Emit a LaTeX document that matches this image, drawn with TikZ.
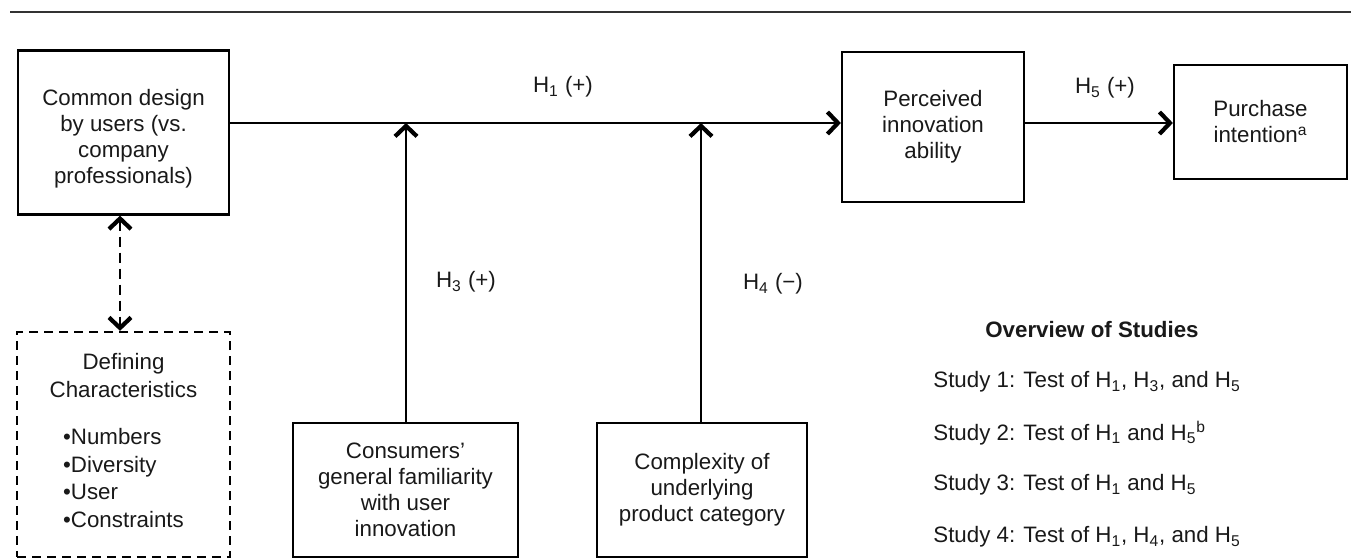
\documentclass[tikz,border=0pt]{standalone}
\usepackage{fontspec}
\setmainfont{Liberation Sans}
\usetikzlibrary{arrows.meta}

\newcommand{\Hy}[1]{H\textsubscript{#1}}

\tikzset{
  box/.style={draw, line width=1.3pt, align=center, inner sep=2pt},
  dbox/.style={box, dash pattern=on 0.18cm off 0.12cm},
  tip/.tip={Straight Barb[length=0.21cm,width=0.44cm,line width=2.4pt]},
  arr/.style={line width=1.3pt, -tip},
  darr/.style={line width=1.3pt, dash pattern=on 0.2cm off 0.12cm, tip-tip},
  lbl/.style={inner sep=0pt},
}

\begin{document}
\begin{tikzpicture}[x=0.02cm, y=-0.02cm, font=\fontsize{12.7}{14.8}\selectfont, text=black!90]
  \useasboundingbox (0,0) rectangle (1351,560);
  \draw[line width=1.7pt, black!80] (10,12) -- (1351,12);

  \node[box, minimum width=4.22cm, minimum height=3.28cm] (common) at (123.5,132.5)
    {\raisebox{-4pt}[\height][\depth]{\begin{tabular}{@{}c@{}}Common design\\by users (vs.\\company\\professionals)\end{tabular}}};
  \node[dbox, minimum width=4.26cm, minimum height=4.5cm,
        font=\fontsize{12.7}{15.6}\selectfont] (defchar) at (123.5,444.5)
    {Defining\\Characteristics\\[15pt]
     \begin{tabular}{@{}l@{}}\textbullet Numbers\\ \textbullet Diversity\\ \textbullet User\\ \textbullet Constraints\end{tabular}};
  \node[box, minimum width=4.5cm, minimum height=2.68cm] (familiar) at (405.5,490)
    {Consumers'\\general familiarity\\with user\\innovation};
  \node[box, minimum width=4.2cm, minimum height=2.68cm] (complex) at (702,490)
    {Complexity of\\underlying\\product category};
  \node[box, minimum width=3.64cm, minimum height=3cm] (perceived) at (933,127)
    {Perceived\\innovation\\ability};
  \node[box, minimum width=3.46cm, minimum height=2.28cm] (purchase) at (1260.5,122)
    {Purchase\\intention\textsuperscript{a}};

  \coordinate (j3) at (406,123);
  \coordinate (j4) at (701,123);

  \draw[arr] (common.east |- j3) -- (perceived.west |- j3);
  \draw[arr] (perceived.east |- j3) -- (purchase.west |- j3);
  \draw[arr] (familiar.north -| j3) -- (j3);
  \draw[arr] (complex.north -| j4) -- (j4);
  \draw[darr] (common.south -| 120,0) -- (defchar.north -| 120,0);

  \node[lbl] (h1) at (563,87) {\Hy{1} (+)};
  \node[lbl] (h5) at (1105,88) {\Hy{5} (+)};
  \node[lbl] (h3) at (466,282) {\Hy{3} (+)};
  \node[lbl] (h4) at (773,284) {\Hy{4} (−)};

  % overview of studies
  \node[lbl, font=\fontsize{12.7}{14.8}\selectfont\bfseries] (ovw) at (1092,330) {Overview of Studies};
  \node[lbl, anchor=west] (s1) at (933,382) {Study 1: Test of \Hy{1}, \Hy{3}, and \Hy{5}};
  \node[lbl, anchor=west] (s2) at (933,433) {Study 2: Test of \Hy{1} and \Hy{5}\textsuperscript{b}};
  \node[lbl, anchor=west] (s3) at (933,485) {Study 3: Test of \Hy{1} and \Hy{5}};
  \node[lbl, anchor=west] (s4) at (933,537) {Study 4: Test of \Hy{1}, \Hy{4}, and \Hy{5}};
\end{tikzpicture}
\end{document}
